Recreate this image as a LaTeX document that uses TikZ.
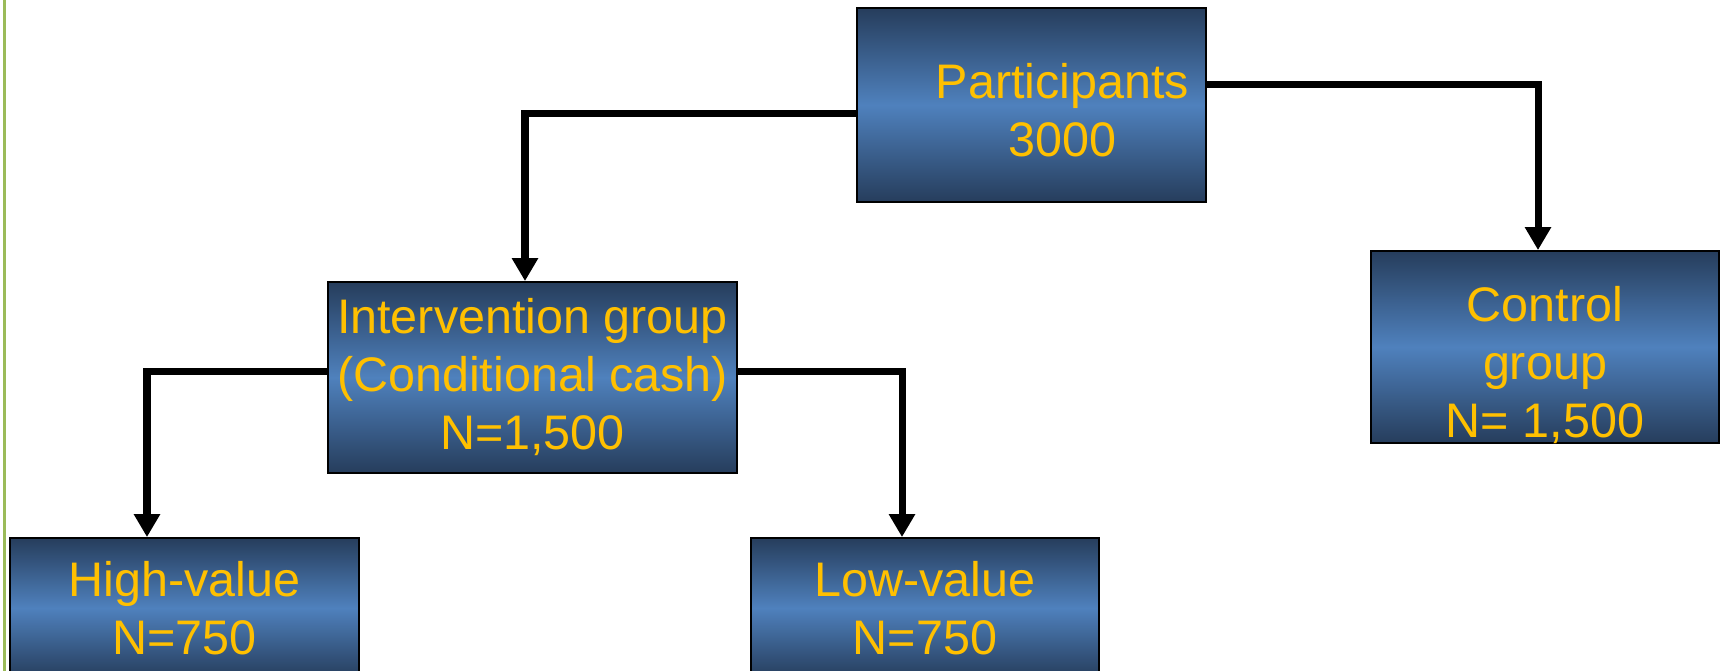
\documentclass[tikz,border=0pt]{standalone}
\usepackage{fontspec}
\setmainfont{Liberation Sans}
\usetikzlibrary{arrows.meta}
\definecolor{boxdark}{RGB}{38,61,92}
\definecolor{boxmid}{RGB}{79,129,189}
\definecolor{boxtext}{RGB}{255,192,0}
\definecolor{pageline}{RGB}{155,187,89}
\tikzstyle{groupbox} = [rectangle, minimum width=3.49cm, minimum height=1.92cm, inner sep=0pt, align=center, draw=black, line width=0.5pt, top color=boxdark, bottom color=boxdark, middle color=boxmid, text=boxtext, font=\fontsize{13.8}{16.5}\selectfont]
\tikzstyle{arrowline} = [line width=2pt, -{Triangle[length=0.23cm, width=0.25cm]}]

\begin{document}
\begin{tikzpicture}

\clip (0,0) rectangle (17.21,6.71);
\draw [pageline, line width=0.8pt] (0.045,0) -- (0.045,6.71);

\node (part) [groupbox, minimum height=1.94cm] at (10.315,5.66) {\hspace*{0.62cm}\rule{0pt}{0.45cm}Participants\\\hspace*{0.62cm}3000};
\node (interv) [groupbox, minimum width=4.09cm, minimum height=1.91cm] at (5.325,2.935) {Intervention group\\(Conditional cash)\\N=1,500};
\node (ctrl) [groupbox, minimum width=3.48cm, label={[text=boxtext, align=center, font=\fontsize{13.8}{16.5}\selectfont, yshift=-0.18cm]center:Control\\group\\N= 1,500}] at (15.45,3.24) {};
\node (high) [groupbox, minimum height=1.40cm] at (1.845,0.63) {High-value\\N=750};
\node (low) [groupbox, minimum width=3.48cm, minimum height=1.40cm] at (9.25,0.63) {Low-value\\N=750};

\draw [arrowline] ([yshift=-0.09cm]part.west) -| ([xshift=-0.075cm]interv.north);
\draw [arrowline] ([yshift=0.2cm]part.east) -| ([xshift=-0.07cm]ctrl.north);
\draw [arrowline] ([yshift=0.055cm]interv.west) -| ([xshift=-0.375cm]high.north);
\draw [arrowline] ([yshift=0.055cm]interv.east) -| ([xshift=-0.23cm]low.north);

\end{tikzpicture}
\end{document}
